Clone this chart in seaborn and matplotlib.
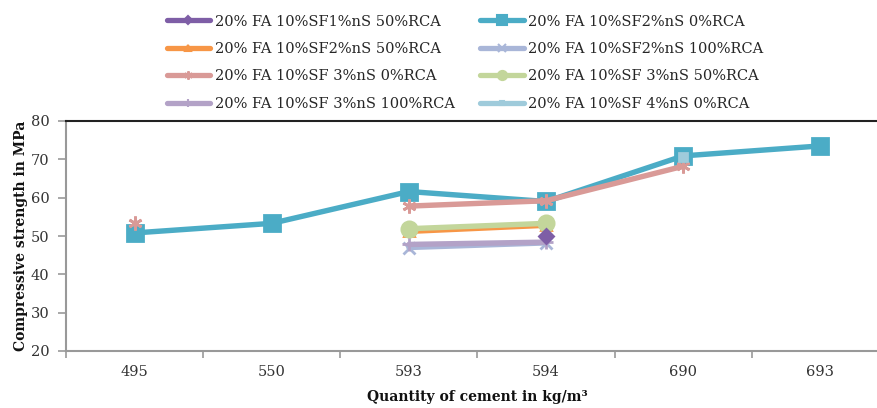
import numpy as np
import pandas as pd
import seaborn as sns
import matplotlib
matplotlib.use("Agg")
import matplotlib.pyplot as plt
from matplotlib.ticker import FixedLocator

sns.set_theme(style="white")
plt.rcParams['font.family'] = ['DejaVu Serif']

categories = ["495", "550", "593", "594", "690", "693"]

series_names = [
    "20% FA 10%SF1%nS 50%RCA",
    "20% FA 10%SF2%nS 0%RCA",
    "20% FA 10%SF2%nS 50%RCA",
    "20% FA 10%SF2%nS 100%RCA",
    "20% FA 10%SF 3%nS 0%RCA",
    "20% FA 10%SF 3%nS 50%RCA",
    "20% FA 10%SF 3%nS 100%RCA",
    "20% FA 10%SF 4%nS 0%RCA",
]

nan = np.nan
s1_values = [nan, nan, nan, 50.0, nan, nan]
s2_values = [50.8, 53.3, 61.6, 59.0, 70.9, 73.5]
s3_values = [nan, nan, 51.2, 52.8, nan, nan]
s4_values = [nan, nan, 47.0, 48.2, nan, nan]
s5_values = [53.4, nan, 57.8, 59.2, 68.2, nan]
s6_values = [nan, nan, 51.9, 53.3, nan, nan]
s7_values = [nan, nan, 47.8, 48.4, nan, nan]
s8_values = [nan, nan, nan, nan, 70.5, nan]

all_values = [s1_values, s2_values, s3_values, s4_values,
              s5_values, s6_values, s7_values, s8_values]

colors = ["#7E5EA6", "#4BACC6", "#F79646", "#A9B6D8",
          "#D99A97", "#C3D69B", "#B3A2C7", "#9FCBDB"]
markers = ["D", "s", "^", "x", (6, 2, 0), "o", "+", "s"]
msizes = [7, 12, 7, 9, 10, 11, 10, 6]
zorders = [5, 3, 4, 4, 3.5, 4.5, 4.2, 3.8]

fig = plt.figure(figsize=(8.78, 4.08), dpi=100)
ax = fig.add_axes([66/878, 1 - 351/408, (889 - 66)/878, (351 - 121)/408])

x_pos = np.arange(len(categories))


def runs(vals):
    """Split a series into contiguous non-missing runs (gaps are not bridged)."""
    out, cur = [], []
    for i, v in enumerate(vals):
        if np.isnan(v):
            if cur:
                out.append(cur)
            cur = []
        else:
            cur.append(i)
    if cur:
        out.append(cur)
    return out


handles = []
for name, vals, c, m, ms, z in zip(series_names, all_values, colors, markers, msizes, zorders):
    vals = np.asarray(vals, dtype=float)
    for run in runs(vals):
        df = pd.DataFrame({"x": x_pos[run], "y": vals[run]})
        sns.lineplot(data=df, x="x", y="y", ax=ax, color=c, linewidth=3.9,
                     marker=m, markersize=ms, markeredgecolor=c, markeredgewidth=2,
                     zorder=z, legend=False)
    handles.append(plt.Line2D([], [], color=c, linewidth=3.8, marker=m,
                              markersize=ms * 0.6, markeredgecolor=c, markeredgewidth=1.5))

ax.set_xlim(-0.5, len(categories) - 0.5)
ax.set_ylim(20, 80)
ax.set_yticks(np.arange(20, 81, 10))
ax.set_xticks(x_pos)
ax.set_xticklabels(categories)
ax.xaxis.set_minor_locator(FixedLocator(np.arange(-0.5, len(categories), 1.0)))
ax.tick_params(axis="x", which="major", length=0, pad=10, labelsize=10.5, colors="#333333")
ax.tick_params(axis="x", which="minor", length=5, width=1.2, color="#999999", bottom=True)
ax.tick_params(axis="y", which="major", length=6, width=1.2, color="#999999", left=True,
               labelsize=10.5, labelcolor="#333333", pad=6)

for side in ["left", "bottom"]:
    ax.spines[side].set_color("#999999")
    ax.spines[side].set_linewidth(1.5)
ax.spines["top"].set_color("#222222")
ax.spines["top"].set_linewidth(1.5)
ax.spines["right"].set_visible(False)
ax.grid(False)

ax.set_xlabel("Quantity of cement in kg/m³", fontsize=10, fontweight="bold", labelpad=8, color="#111111")
ax.set_ylabel("Compressive strength in MPa", fontsize=10, fontweight="bold", labelpad=2, color="#111111")

order = [0, 2, 4, 6, 1, 3, 5, 7]
fig.legend([handles[i] for i in order], [series_names[i] for i in order],
           ncol=2, loc="upper left", bbox_to_anchor=(152/878, 1.0), frameon=False,
           fontsize=10.5, handlelength=3.0, handletextpad=0.3, columnspacing=1.75,
           labelspacing=0.92, borderaxespad=0.6)

fig.savefig("out.png", dpi=100)
